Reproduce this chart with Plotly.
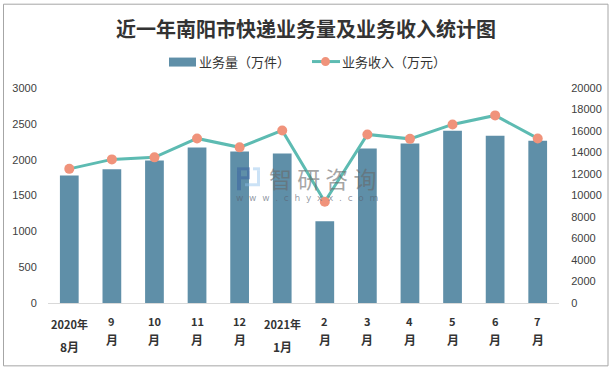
import plotly.graph_objects as go

months = ["2020年8月", "9月", "10月", "11月", "12月", "2021年1月", "2月", "3月", "4月", "5月", "6月", "7月"]
line1 = ["2020年", "9", "10", "11", "12", "2021年", "2", "3", "4", "5", "6", "7"]
line2 = ["8月", "月", "月", "月", "月", "1月", "月", "月", "月", "月", "月", "月"]
volume = [1780, 1865, 1990, 2170, 2115, 2085, 1140, 2155, 2225, 2405, 2335, 2265]
revenue = [12480, 13360, 13550, 15310, 14480, 16050, 9420, 15680, 15270, 16610, 17450, 15310]
left_ticks = [0, 500, 1000, 1500, 2000, 2500, 3000]
right_ticks = [0, 2000, 4000, 6000, 8000, 10000, 12000, 14000, 16000, 18000, 20000]
bar_name = "业务量（万件）"
line_name = "业务收入（万元）"

FONT = "Noto Sans CJK SC"
NUM = "Liberation Sans"
BAR = "#5F8FA8"
LINE = "#5DBBB2"
DOT = "#F0937B"
W, H = 613, 371
L, R, T, B = 48, 54, 87.5, 68
px = lambda x: (x - L) / (W - L - R)
py = lambda y: 1 - (y - T) / (H - T - B)

fig = go.Figure()
fig.add_trace(go.Bar(x=months, y=volume, name=bar_name, marker=dict(color=BAR, line_width=0), width=0.44, yaxis="y", showlegend=False))
fig.add_trace(go.Scatter(x=months, y=revenue, name=line_name, mode="lines+markers", yaxis="y2", showlegend=False,
                         line=dict(color=LINE, width=3), marker=dict(color=DOT, size=10)))


def note(text, x, y, size, color="#333333", family=FONT, weight="normal", xanchor="center"):
    return dict(text=text, x=px(x), y=py(y), xref="paper", yref="paper", showarrow=False,
                xanchor=xanchor, yanchor="middle",
                font=dict(family=family, size=size, color=color, weight=weight))


ann = [note("近一年南阳市快递业务量及业务收入统计图", 306, 28, 20, weight="bold"),
       note(bar_name, 197, 61, 13, xanchor="left"),
       note(line_name, 340, 61, 13, xanchor="left")]
for i, (a, b) in enumerate(zip(line1, line2)):
    two = "年" in a
    for text, y, size in ((a, 324 if two else 321, 11), (b, 347 if two else 340, 12)):
        ann.append(dict(text=text, x=months[i], xref="x", y=py(y), yref="paper", showarrow=False,
                        xanchor="center", yanchor="middle",
                        font=dict(family=FONT, size=size, color="#333333", weight="bold")))
ann.append(note("智 研 咨 询", 322, 178, 23, color="rgba(105,105,105,0.6)"))
ann.append(note("w  w  w  .  c  h  y  x  x  .  c  o  m", 307, 198, 9, color="rgba(90,100,115,0.65)", family="DejaVu Sans"))


def box(x0, x1, y0, y1, color, layer="above"):
    return dict(type="rect", xref="paper", yref="paper", x0=px(x0), x1=px(x1), y0=py(y1), y1=py(y0),
                line_width=0, fillcolor=color, layer=layer)


DK = "rgba(50,90,160,0.45)"
LT = "rgba(140,190,235,0.45)"
shapes = [
    dict(type="rect", xref="paper", yref="paper", x0=px(3.5), x1=px(608), y0=py(366), y1=py(3.5),
         line=dict(color="#A6A6A6", width=1), fillcolor="rgba(0,0,0,0)", layer="below"),
    box(169, 196, 57, 66, BAR),
    dict(type="line", xref="paper", yref="paper", x0=px(312), x1=px(340), y0=py(61), y1=py(61), line=dict(color=LINE, width=3)),
    dict(type="circle", xref="paper", yref="paper", x0=px(321), x1=px(330), y0=py(65.5), y1=py(56.5), line_width=0, fillcolor=DOT),
    box(237, 250, 167, 170, DK), box(237, 241, 170, 190, DK), box(247, 250, 170, 179, DK), box(241, 247, 176, 179, DK),
    box(253, 260, 167, 170, LT), box(257, 260, 170, 186, LT), box(245, 257, 183, 186, LT),
]

fig.update_layout(
    width=W, height=H, margin=dict(l=L, r=R, t=T, b=B, autoexpand=False, pad=0),
    paper_bgcolor="white", plot_bgcolor="white", bargap=0.56, showlegend=False,
    font=dict(family=NUM, size=11, color="#404040"),
    xaxis=dict(type="category", categoryorder="array", categoryarray=months, range=[-0.5, 11.5], showticklabels=False, showgrid=False, ticks="",
               showline=True, linecolor="#D9D9D9", linewidth=1, automargin=False),
    yaxis=dict(range=[0, 3000], tickvals=left_ticks, tickformat="d", showgrid=False, zeroline=False, ticks="outside", ticklen=8,
               tickcolor="rgba(0,0,0,0)", showline=False, tickfont=dict(size=11), automargin=False),
    yaxis2=dict(range=[0, 20000], tickvals=right_ticks, tickformat="d", overlaying="y", side="right", showgrid=False, zeroline=False,
                ticks="outside", ticklen=9, tickcolor="rgba(0,0,0,0)", showline=False, tickfont=dict(size=11), automargin=False),
    annotations=ann, shapes=shapes,
)
fig.write_html("out.html", config=dict(displayModeBar=False),
               post_script="document.body.style.margin='0';document.documentElement.style.overflow='hidden';")
